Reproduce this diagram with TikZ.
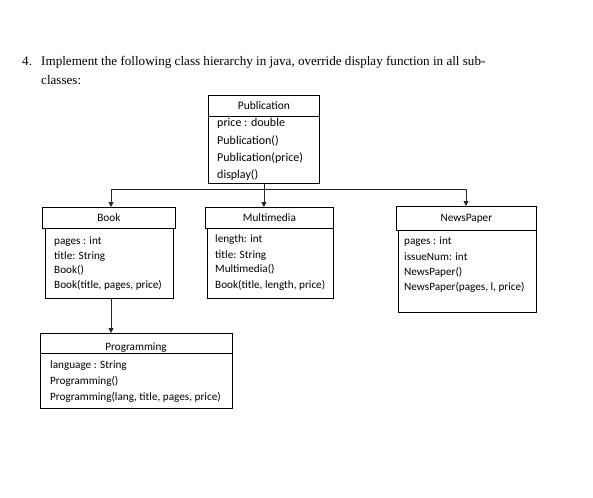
\documentclass[tikz,border=0pt]{standalone}
\usepackage{fontspec}
\setmainfont{Liberation Serif}
\newfontfamily\carlito{Carlito}
\usetikzlibrary{arrows.meta}
\tikzset{
  box/.style={draw=black, line width=0.8pt, rectangle, inner sep=0pt, anchor=north west},
  ttl/.style={font=\carlito\fontsize{11.3}{13}\selectfont},
  ln/.style={anchor=base west, inner sep=0pt, font=\carlito\fontsize{11.2}{13}\selectfont},
  lnbig/.style={anchor=base west, inner sep=0pt, font=\carlito\fontsize{12}{14}\selectfont},
  head/.style={anchor=base west, inner sep=0pt, font=\fontsize{13.1}{15}\selectfont},
  conn/.style={draw=black!85, line width=0.8pt},
  arr/.style={conn, -{Triangle[length=5pt,width=5pt]}}
}
\begin{document}
\begin{tikzpicture}[x=1pt,y=-1pt]
\useasboundingbox[fill=white] (0,0) rectangle (593,497);
% heading
\node[head] (num) at (22,66) {4.};
\node[head] (h1) at (41,66) {Implement the following class hierarchy in java, override display function in all sub-};
\node[head] (h2) at (41,85) {classes:};
% Publication
\node[box, minimum width=111, minimum height=21, font=\carlito\fontsize{11.5}{13}\selectfont] (pubT) at (208,95) {Publication};
\node[box, minimum width=111, minimum height=67] (pubB) at (208,116) {};
\node[lnbig] (p1) at (217,127) {price : double};
\node[lnbig] (p2) at (217,144) {Publication()};
\node[lnbig] (p3) at (217,161) {Publication(price)};
\node[lnbig] (p4) at (217,178) {display()};
% Book
\node[box, ttl, minimum width=133, minimum height=21] (bookT) at (42,207) {Book};
\node[box, minimum width=128, minimum height=70] (bookB) at (45,228) {};
\node[ln] (b1) at (54,244.5) {pages : int};
\node[ln] (b2) at (54,259.5) {title: String};
\node[ln] (b3) at (54,273.5) {Book()};
\node[ln] (b4) at (54,288) {Book(title, pages, price)};
% Multimedia
\node[box, ttl, minimum width=128, minimum height=21] (mmT) at (205,207) {Multimedia};
\node[box, minimum width=126, minimum height=70] (mmB) at (207,228) {};
\node[ln] (m1) at (215,242.5) {length: int};
\node[ln] (m2) at (215,258.5) {title: String};
\node[ln] (m3) at (215,272.5) {Multimedia()};
\node[ln] (m4) at (215,288.5) {Book(title, length, price)};
% NewsPaper
\node[box, ttl, minimum width=140, minimum height=24] (npT) at (396,206) {NewsPaper};
\node[box, minimum width=138, minimum height=82] (npB) at (398,230) {};
\node[ln] (n1) at (404,244.5) {pages : int};
\node[ln] (n2) at (404,260.5) {issueNum: int};
\node[ln] (n3) at (404,275.5) {NewsPaper()};
\node[ln] (n4) at (404,290.5) {NewsPaper(pages, l, price)};
% Programming
\node[box, minimum width=192, minimum height=20] (prT) at (40,333) {};
\node[ln, anchor=base] (prN) at (136,350) {Programming};
\node[box, minimum width=192, minimum height=55] (prB) at (40,353) {};
\node[ln] (r1) at (50,368.5) {language : String};
\node[ln] (r2) at (50,384.5) {Programming()};
\node[ln] (r3) at (50,400.5) {Programming(lang, title, pages, price)};
% connectors
\coordinate (jl) at (111,189);
\coordinate (jm) at (pubB.south |- jl);
\coordinate (jr) at (466,189);
\draw[conn] (jl) -- (jr);
\draw[arr] (pubB.south) -- (pubB.south |- mmT.north);
\draw[arr] (jl) -- (jl |- bookT.north);
\draw[arr] (jr) -- (jr |- npT.north);
\draw[arr] (bookB.south -| jl) -- (prT.north -| jl);
\end{tikzpicture}
\end{document}
